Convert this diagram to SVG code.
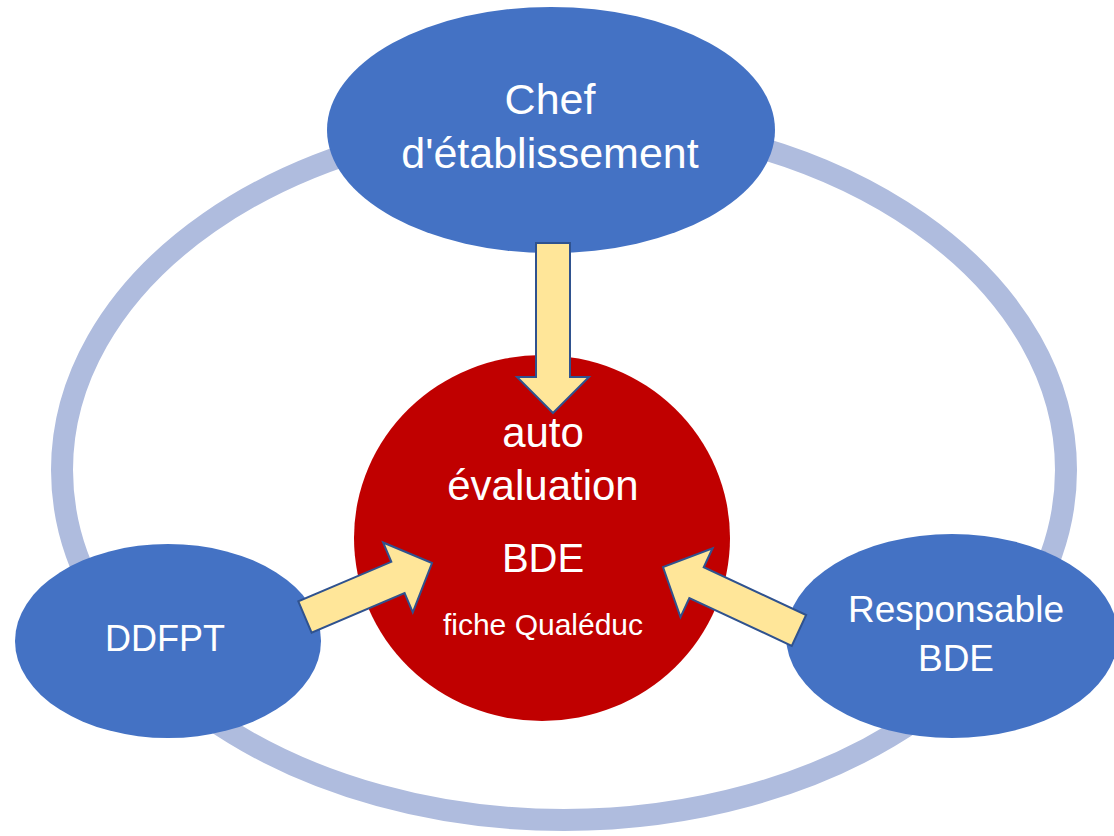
<svg xmlns="http://www.w3.org/2000/svg" width="1114" height="836" viewBox="0 0 1114 836">
  <defs>
    <style>
      .node { fill: #4472C4; }
      .core { fill: #C00000; }
      .ring { fill: none; stroke: #AFBCDE; stroke-width: 22; }
      .arrow { fill: #FFE699; stroke: #2F528F; stroke-width: 2; stroke-linejoin: miter; }
      .label { fill: #FFFFFF; font-family: "Liberation Sans", Arial, sans-serif; text-anchor: middle; }
    </style>
  </defs>

  <rect width="1114" height="836" fill="#FFFFFF"/>

  <!-- surrounding cycle -->
  <g id="cycle">
    <ellipse class="ring" cx="564" cy="470" rx="502" ry="350"/>
  </g>

  <g id="chef">
    <ellipse class="node" cx="551" cy="130" rx="224" ry="123"/>
    <text class="label" x="550" y="114" font-size="43">Chef</text>
    <text class="label" x="550" y="168" font-size="43">d'établissement</text>
  </g>

  <g id="ddfpt">
    <ellipse class="node" cx="168" cy="641" rx="153" ry="97"/>
    <text class="label" x="165" y="651" font-size="36">DDFPT</text>
  </g>

  <g id="responsable">
    <ellipse class="node" cx="952" cy="636" rx="166" ry="102"/>
    <text class="label" x="956" y="622" font-size="37">Responsable</text>
    <text class="label" x="956" y="671" font-size="37">BDE</text>
  </g>

  <g id="autoevaluation">
    <ellipse class="core" cx="542" cy="538" rx="188" ry="183"/>
    <text class="label" x="543" y="447" font-size="42">auto</text>
    <text class="label" x="543" y="500" font-size="42">évaluation</text>
    <text class="label" x="543" y="572" font-size="40">BDE</text>
    <text class="label" x="543" y="635" font-size="30">fiche Qualéduc</text>
  </g>

  <!-- block arrows pointing into the centre -->
  <g id="connectors">
    <polygon class="arrow" transform="translate(553 413) rotate(90)"
      points="0,0 -36,-36 -36,-17 -170,-17 -170,17 -36,17 -36,36"/>
    <polygon class="arrow" transform="translate(432 563) rotate(-23)"
      points="0,0 -37,-38 -37,-17 -138,-17 -138,17 -37,17 -37,38"/>
    <polygon class="arrow" transform="translate(663 567) rotate(205)"
      points="0,0 -37,-38 -37,-17 -150,-17 -150,17 -37,17 -37,38"/>
  </g>
</svg>
